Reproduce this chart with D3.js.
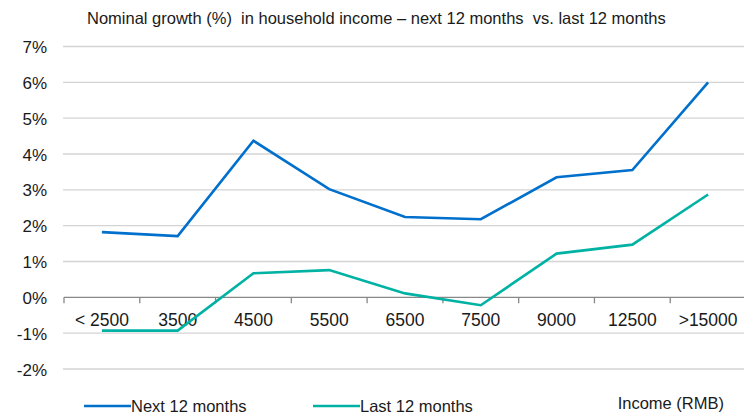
<!DOCTYPE html>
<html>
<head>
<meta charset="utf-8">
<script src="https://cdn.jsdelivr.net/npm/d3@7"></script>
<style>
  body { margin: 0; background: #fff; }
  svg text { font-family: "Liberation Sans", Arial, sans-serif; fill: #1a1a1a; }
</style>
</head>
<body>
<div id="vis"></div>
<script>
// income bands and survey values
const categories = ['< 2500', '3500', '4500', '5500', '6500', '7500', '9000', '12500', '>15000'];
const nextMonths = [1.82, 1.71, 4.37, 3.02, 2.24, 2.18, 3.35, 3.55, 6.0];
const lastMonths = [-0.93, -0.93, 0.67, 0.76, 0.11, -0.22, 1.22, 1.47, 2.87];
const yTicks = [-2, -1, 0, 1, 2, 3, 4, 5, 6, 7];
const seriesNames = ['Next 12 months', 'Last 12 months'];
const colors = ['#0070cc', '#00b2a3'];

let width = 744, height = 418;

let svg = d3.select('#vis')
  .append('svg')
  .attr('width', width)
  .attr('height', height);

// scales
let x = d3.scaleBand()
  .domain(categories)
  .range([64, 746]);

let y = d3.scaleLinear()
  .domain([-2, 7])
  .range([369, 46.5]);

// title
svg.append('text')
  .attr('x', 87)
  .attr('y', 24)
  .style('font-size', '16.5px')
  .attr('xml:space', 'preserve')
  .text('Nominal growth (%)  in household income \u2013 next 12 months  vs. last 12 months');

// gridlines
svg.append('g')
  .selectAll('line')
  .data(yTicks.filter(d => d !== 0))
  .join('line')
  .attr('x1', 63)
  .attr('x2', 744)
  .attr('y1', d => y(d))
  .attr('y2', d => y(d))
  .attr('stroke', '#d4d4d4')
  .attr('stroke-width', 1.3);

// y labels
svg.append('g')
  .selectAll('text')
  .data(yTicks)
  .join('text')
  .attr('x', 47)
  .attr('y', d => y(d) + 6.5)
  .attr('text-anchor', 'end')
  .style('font-size', '17px')
  .text(d => d + '%');

// x axis at zero
let xAxis = d3.axisBottom(x)
  .tickSize(0)
  .tickFormat('');
let gx = svg.append('g')
  .attr('transform', `translate(0,${y(0)})`)
  .call(xAxis);
gx.select('.domain').remove();
gx.append('line')
  .attr('x1', 64).attr('x2', 744)
  .attr('stroke', '#888').attr('stroke-width', 1.3);
gx.selectAll('.bound')
  .data(categories)
  .join('line')
  .attr('class', 'bound')
  .attr('x1', d => x(d)).attr('x2', d => x(d))
  .attr('y1', 0).attr('y2', 6)
  .attr('stroke', '#888').attr('stroke-width', 1.3);

// category labels
svg.append('g')
  .selectAll('text')
  .data(categories)
  .join('text')
  .attr('x', d => x(d) + x.bandwidth() / 2)
  .attr('y', 326)
  .attr('text-anchor', 'middle')
  .style('font-size', '17.5px')
  .text(d => d);

// lines
let line = d3.line()
  .x((d, i) => x(categories[i]) + x.bandwidth() / 2)
  .y(d => y(d));

[nextMonths, lastMonths].forEach((s, i) => {
  svg.append('path')
    .datum(s)
    .attr('d', line)
    .attr('fill', 'none')
    .attr('stroke', colors[i])
    .attr('stroke-width', 2.6)
    .attr('stroke-linejoin', 'miter');
});

// legend
let legendX = [84, 313];
seriesNames.forEach((name, i) => {
  svg.append('line')
    .attr('x1', legendX[i]).attr('x2', legendX[i] + 47)
    .attr('y1', 406).attr('y2', 406)
    .attr('stroke', colors[i]).attr('stroke-width', 2.6);
  svg.append('text')
    .attr('x', legendX[i] + 47)
    .attr('y', 412)
    .style('font-size', '16.5px')
    .text(name);
});

svg.append('text')
  .attr('x', 724)
  .attr('y', 409)
  .attr('text-anchor', 'end')
  .style('font-size', '16.5px')
  .text('Income (RMB)');
</script>
</body>
</html>
